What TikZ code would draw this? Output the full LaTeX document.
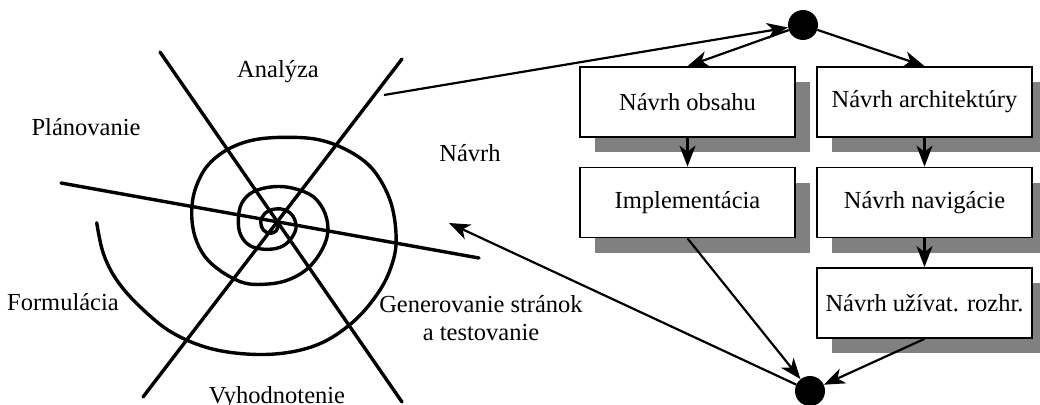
\documentclass[tikz,border=0pt]{standalone}
\usepackage{fontspec}
\setmainfont{Liberation Serif}
\usetikzlibrary{arrows.meta}
\begin{document}
\begin{tikzpicture}[x=1pt,y=-1pt,
  spir/.style={line width=3.4pt, line cap=round, line join=round},
  lbl/.style={font=\fontsize{24.5}{28}\selectfont, inner sep=0pt},
  box/.style={draw, line width=1.7pt, fill=white, minimum width=215pt, minimum height=70pt, font=\fontsize{24.5}{28}\selectfont, inner sep=0pt},
  shadowbox/.style={fill=black!50, minimum width=215pt, minimum height=70pt, inner sep=0pt},
  dot/.style={circle, fill=black, minimum size=30pt, inner sep=0pt},
  conn/.style={line width=2.2pt, -{Stealth[length=21pt,width=16pt,inset=6pt]}}]
\useasboundingbox (0,0) rectangle (1040,404);
% spiral diagram
\draw[spir] (160,52) -- (402,402);
\draw[spir] (402,59) -- (143,397);
\draw[spir] (61,183) -- (479,258);
\draw[spir] plot[smooth, tension=0.6] coordinates {
(96.7,222.7) (103.3,253.3) (116.7,280) (140,306.7) (173.3,333.3) (216.7,350) (270,354.3)
(316.7,345) (353.3,321.7) (380,290) (393.3,260) (396,233.3) (390,200) (373.3,170)
(350,151.7) (320,140) (286.7,137.3) (253.3,140) (226.7,150) (206.7,166.7) (195,190)
(191.7,213.3) (195,236.7) (205,256.7) (221.7,271.7) (243.3,282.7) (263.3,284.3)
(285,281) (305,270.7) (320,253.3) (327.7,233.3) (325,213.3) (313.3,196.7) (293.3,188.3)
(273.3,186.7) (253.3,191.7) (241.7,203.3) (238.3,220) (240.7,235) (250,245.7)
(265,249.3) (280,247.3) (290,240) (296,228.3) (293.3,216.7) (285,210) (275,209)
(265,213.3) (260.7,221.7) (263.3,230) (270,233.3) (276,231) (278.3,225)};
\node[lbl] (analyza) at (278,72) {Analýza};
\node[lbl] (planovanie) at (86,127) {Plánovanie};
\node[lbl] (navrh) at (470,153) {Návrh};
\node[lbl] (formulacia) at (63,302) {Formulácia};
\node[lbl, align=center] (generovanie) at (481,318) {Generovanie stránok\\a testovanie};
\node[lbl] (vyhodnotenie) at (277,398) {Vyhodnotenie};
\coordinate (spout) at (384,95);
\coordinate (spin) at (449,223);
% flow part
\foreach \n/\x/\y in {s1/687.5/102, s2/924.5/102, s3/687.5/202.5, s4/924.5/202.5, s5/924.5/303}
  \node[shadowbox] (\n) at (\x+15,\y+15) {};
\node[box] (obsah) at (687.5,102) {Návrh obsahu};
\node[box] (arch) at (924.5,102) {Návrh architektúry};
\node[box] (impl) at (687.5,202.5) {Implementácia};
\node[box] (navig) at (924.5,202.5) {Návrh navigácie};
\node[box] (uziv) at (924.5,303) {Návrh užívat. rozhr.};
\node[dot] (top) at (803,25) {};
\node[dot] (bot) at (810,391) {};
\draw[conn] (spout) -- (top);
\draw[conn] (top) -- (obsah.north);
\draw[conn] (top) -- (arch.north);
\draw[conn] (obsah) -- (impl);
\draw[conn] (arch) -- (navig);
\draw[conn] (navig) -- (uziv);
\draw[conn] (impl.south) -- (bot);
\draw[conn] (uziv.south) -- (bot);
\draw[conn] (bot) -- (spin);
\end{tikzpicture}
\end{document}
